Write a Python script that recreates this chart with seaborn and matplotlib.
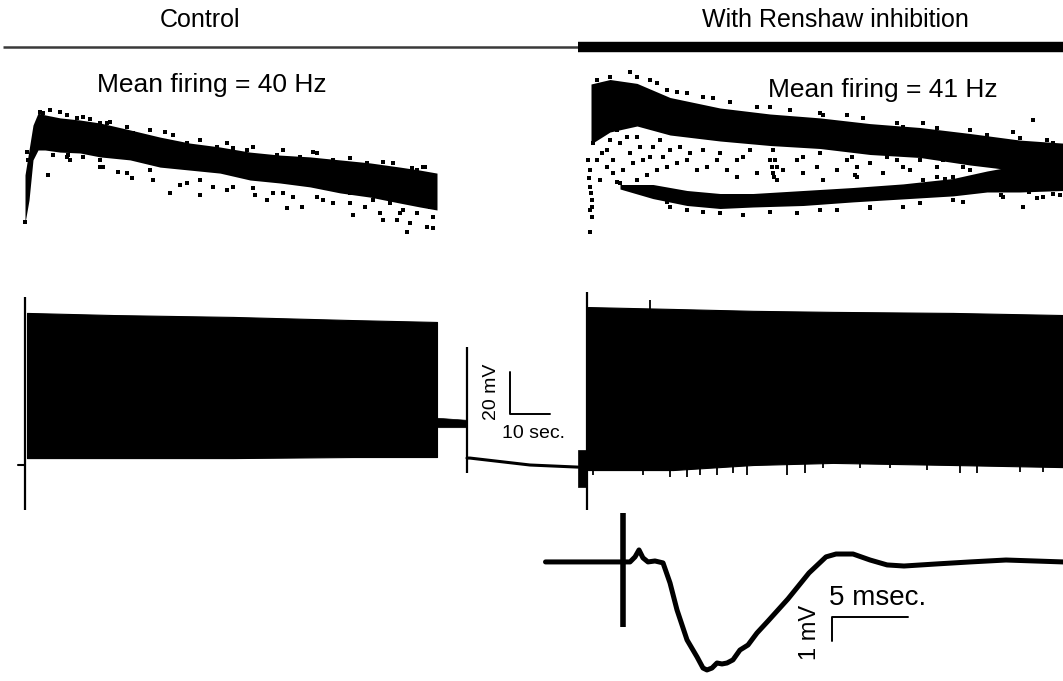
import numpy as np
import pandas as pd
import matplotlib
matplotlib.use("Agg")
import matplotlib.pyplot as plt
import seaborn as sns

# ---------------- data ----------------
# firing-rate plots: time (s) vs instantaneous rate (Hz)
ctrl_band_t  = [-2.0, -1.0, 0.0, 1.25, 3.0, 6.75, 11.75, 16.75, 24.25, 31.75, 39.25,
                46.75, 54.25, 61.75, 69.25, 76.75, 84.25, 91.75, 96.75, 101.0]
ctrl_band_hi = [36.7, 45.0, 53.3, 57.3, 56.7, 55.7, 55.0, 54.0, 51.7, 49.3, 47.3,
                46.0, 44.3, 43.3, 42.7, 41.7, 40.7, 39.3, 38.3, 37.3]
ctrl_band_lo = [20.7, 28.3, 41.7, 45.0, 45.0, 44.3, 44.0, 42.7, 41.7, 39.3, 38.3,
                37.3, 35.0, 34.0, 32.7, 30.7, 29.3, 27.3, 26.0, 25.0]
ctrl_pts_t  = [-1.6, 3.8, 4.25, 6.75, 1.75, 14.25, 19.25, 33.0, 17.6, 21.3, 24.7, 34.25,
               41.75, 36.75, 48.4, 55.5, 63.4, 58.4, 70.1, 75.1, 67.2, 75.1, 80.1, 83.0,
               87.6, 93.4, 94.25, 100.1, 98.4, 98.0, 94.7, 90.1, 45.9, 53.4, 60.9, -2.0,
               -1.2, 5.1, 8.8, 10.9, 16.75, 25.1, 38.4, 50.1, 66.75, 83.4, 95.9, 100.1,
               100.1, 91.75, 79.25, 70.9, 62.6, 50.1, 41.75, 29.25, 16.75, 8.4,
               79.25, 85.1, 89.25, 92.6, 95.9, 99.25, 90.9, 86.75, 72.6, 65.1, 60.1, 55.1,
               45.1, 38.4, 30.1, 23.4, 16.75, 9.25, 12.6,
               2.6, 8.4, 12.6, 18.4, 23.4, 29.25, 35.1, 41.75, 48.4, 55.1, 62.6, 70.9,
               79.25, 87.6, 97.6]
ctrl_pts_hz = [44.4, 36.7, 58.3, 57.8, 57.8, 55.2, 54.4, 51.1, 39.4, 37.8, 35.6, 30.6,
               30.0, 33.3, 31.7, 30.0, 25.6, 28.3, 44.4, 41.7, 26.1, 27.2, 23.3, 26.1,
               21.7, 17.8, 20.6, 18.9, 19.4, 39.4, 38.9, 40.6, 46.1, 45.0, 43.3, 21.1,
               41.7, 43.3, 43.3, 55.6, 53.9, 50.6, 47.2, 45.6, 42.8, 40.6, 38.3, 36.1,
               22.8, 23.9, 27.2, 29.4, 30.6, 32.8, 35.0, 38.3, 41.7, 42.8,
               30.6, 28.3, 27.2, 25.0, 23.9, 26.1, 21.7, 23.9, 28.3, 29.4, 30.6, 32.2,
               32.8, 33.9, 35.0, 37.2, 39.4, 41.7, 42.8,
               57.2, 56.7, 56.1, 53.9, 52.8, 51.7, 50.0, 48.3, 47.2, 46.1, 45.0, 43.9,
               42.2, 41.1, 39.4]

inh_up_t  = [139.5, 144.25, 151.0, 159.25, 171.75, 184.25, 196.75, 209.25, 221.75, 234.25, 246.75, 257.5]
inh_up_hi = [67.0, 68.5, 67.2, 62.5, 59.0, 57.0, 55.7, 53.8, 52.5, 50.5, 48.3, 47.3]
inh_up_lo = [47.0, 51.0, 53.0, 50.0, 48.0, 46.5, 45.5, 43.5, 42.5, 40.0, 38.0, 37.5]
inh_low_t  = [146.75, 155.0, 163.5, 171.75, 180.0, 192.5, 205.0, 217.5, 230.0, 238.5, 246.75, 257.5]
inh_low_hi = [33.5, 33.5, 31.5, 30.5, 30.5, 31.5, 32.5, 33.7, 35.5, 38.0, 40.0, 41.0]
inh_low_lo = [32.0, 28.8, 26.5, 25.5, 26.0, 26.5, 27.7, 28.7, 29.7, 31.0, 31.0, 31.5]
inh_pts_t  = [139.25, 139.25, 139.7, 139.25, 139.7, 138.8, 140.1, 139.25, 139.4, 139.1, 139.75,
              141.75, 143.4, 145.1, 142.2, 146.75, 149.25, 150.9, 152.6, 155.1, 144.25, 147.6, 157.6,
              146.75, 148.4, 150.9, 153.4, 155.9, 158.4, 160.9, 163.4, 165.9, 168.4, 170.9, 173.4,
              175.9, 177.6, 180.9, 184.25, 185.9, 187.6, 190.9, 192.6, 195.9, 197.6, 200.9, 203.4,
              205.9, 209.25, 212.6, 215.9, 219.25, 222.6, 225.9, 230.1, 234.25, 185.9, 185.1, 185.5,
              149.25, 154.25, 158.4, 163.4, 170.1, 184.25, 196.75, 203.4, 217.6, 222.6, 234.25,
              250.1, 245.1, 253.4, 144.25, 140.9,
              158.4, 167.6, 177.6, 200.9, 217.6, 232.6, 247.6, 252.6, 190.9, 159.25, 209.25,
              145.9, 150.9, 153.4, 242.0, 249.0, 255.0, 238.0, 228.0,
              184.7, 185.1, 184.7, 185.25, 205.1, 204.7, 205.9, 205.5,
              224.25, 227.6, 230.1, 232.6, 235.9, 237.6, 235.1, 239.25, 225.9, 221.75,
              142.6, 145.9, 148.4, 151.75, 154.25, 156.75, 159.25, 143.4, 140.9, 145.1, 150.1,
              161.75, 164.25, 167.6, 171.75, 175.9, 179.25, 192.6, 196.75, 213.4, 217.6,
              150.9, 155.9, 160.9, 167.6, 174.25, 180.9, 189.25, 197.6, 207.6, 215.9, 225.9,
              238.4, 246.75, 255.1,
              163.4, 171.75, 184.25, 196.75, 209.25, 221.75, 230.1, 242.6, 250.9, 256.75]
inh_pts_hz = [38.3, 32.8, 28.3, 25.0, 22.8, 41.7, 47.2, 17.8, 30.6, 35.6, 26.1,
              35.0, 39.4, 41.7, 43.9, 47.2, 43.9, 49.4, 41.7, 46.1, 48.3, 38.3, 42.8,
              33.9, 32.8, 35.0, 36.7, 38.3, 39.4, 40.6, 41.7, 38.3, 39.4, 41.7, 38.3,
              36.1, 42.8, 37.2, 41.7, 35.0, 38.3, 41.7, 37.2, 39.4, 35.0, 38.3, 41.7,
              36.1, 40.6, 37.2, 41.7, 38.3, 35.0, 39.4, 36.1, 38.3, 39.4, 37.2, 41.7,
              71.1, 68.3, 65.0, 63.9, 62.2, 59.4, 57.2, 56.7, 52.8, 53.9, 51.7,
              55.0, 51.1, 48.3, 69.4, 68.3,
              27.8, 24.4, 23.3, 25.0, 26.1, 27.8, 26.1, 29.4, 23.9, 26.1, 25.6,
              34.4, 32.2, 32.8, 30.0, 31.0, 30.5, 33.0, 35.5,
              47.2, 45.0, 39.4, 36.1, 46.1, 42.8, 39.4, 36.7,
              45.0, 41.7, 43.9, 39.4, 42.8, 36.1, 33.9, 40.6, 36.1, 41.7,
              50.6, 51.7, 49.4, 46.1, 42.8, 48.3, 45.0, 45.0, 41.7, 37.2, 40.6,
              46.1, 43.9, 45.0, 43.9, 41.7, 45.0, 42.8, 43.9, 42.8, 39.4,
              69.4, 67.2, 64.4, 62.8, 61.1, 59.4, 58.3, 56.7, 55.6, 53.9, 52.2,
              50.0, 48.9, 47.2,
              25.0, 23.9, 24.4, 25.0, 26.1, 27.2, 28.3, 29.4, 28.9, 30.0]

# membrane-potential recordings: time (s) vs Vm (mV)
pre_t, pre_v = [-3.75, -2.0], [-70.0, -70.0]
stim_t   = [-2.0, 108.5, 138.5]
stim_top = [10.0, -13.8, 12.4]
stim_bot = [-91.4, -73.8, -91.4]
ctrl_blk_t   = [-1.5, 20.0, 50.0, 80.0, 101.0]
ctrl_blk_top = [2.4, 1.4, 0.5, -1.0, -1.9]
ctrl_blk_bot = [-66.7, -66.7, -66.7, -66.2, -66.2]
tail_t, tail_hi, tail_lo = [101.0, 108.5], [-47.5, -48.5], [-52.0, -52.0]
post_t = [108.5, 109.25, 124.25, 136.25]
post_v = [-66.7, -66.7, -70.0, -71.0]
burst_t, burst_hi, burst_lo = [136.25, 138.5], [-62.9, -62.9], [-80.5, -80.5]
inh_blk_t   = [138.75, 160.0, 180.0, 200.0, 230.0, 257.5]
inh_blk_top = [5.2, 4.3, 3.4, 2.9, 2.4, 1.4]
inh_blk_bot = [-72.4, -72.4, -70.0, -69.0, -70.0, -71.0]
inh_spk_t = [140.0, 152.5, 159.25, 163.5, 166.75, 171.0, 175.0, 178.5, 188.5, 193.0,
             197.5, 206.75, 214.25, 223.5, 231.75, 236.0, 246.75, 252.5]
inh_spk_v = [-74.8, -74.8, -75.7, -75.7, -74.8, -74.8, -73.8, -74.8, -74.8, -73.8,
             -71.4, -71.4, -71.4, -72.4, -73.8, -73.8, -73.3, -73.3]
inh_up_spk_t, inh_up_spk_v = [154.25], [8.6]

# recurrent IPSP: time (ms) vs mV
ipsp_t = [-4.9, -1.3, -0.1, 0.66, 0.99, 1.25, 1.51, 1.84, 2.30, 2.83, 3.29, 3.75, 4.41,
          5.07, 5.46, 5.72, 6.05, 6.38, 6.71, 7.04, 7.43, 7.89, 8.42, 9.01, 9.74, 11.05,
          12.43, 13.55, 14.21, 15.33, 16.45, 17.57, 18.68, 20.92, 23.03, 25.39, 29.14]
ipsp_v = [0.0, 0.0, 0.0, 0.0, 0.21, 0.5, 0.17, 0.0, 0.04, -0.04, -0.875, -2.0, -3.25,
          -3.96, -4.42, -4.5, -4.42, -4.21, -4.25, -4.21, -4.08, -3.67, -3.46, -2.96, -2.46, -1.54,
          -0.46, 0.21, 0.33, 0.33, 0.08, -0.125, -0.17, -0.08, 0.0, 0.08, 0.0]
ipsp_stim_t, ipsp_stim_top, ipsp_stim_bot = 0.2, 2.04, -2.71

ctrl_span = [-7.5, 136.25]
inh_span = [136.25, 257.5]
ctrl_mean_hz, inh_mean_hz = 40, 41

# ---------------- figure ----------------
sns.set_style("white")
plt.rcParams['font.family'] = ['Liberation Sans', 'DejaVu Sans']
plt.rcParams['text.color'] = 'black'

W, H = 1063, 681
fig = plt.figure(figsize=(W / 100, H / 100), dpi=100)
fig.patch.set_facecolor("white")


def box(x0, y0, x1, y1):
    ax = fig.add_axes([x0 / W, 1 - y1 / H, (x1 - x0) / W, (y1 - y0) / H])
    ax.set_axis_off()
    ax.patch.set_alpha(0)
    return ax


T_LIM = (-8.25, 257.5)

# header
axh = box(0, 0, W, 60)
axh.set_xlim(*T_LIM)
axh.set_ylim(1, 0)
axh.hlines(0.78, ctrl_span[0], ctrl_span[1], color="#3a3a3a", lw=1.8)
axh.hlines(0.78, inh_span[0], inh_span[1], color="black", lw=7.5)
axh.text(41.75, 0.33, "Control", ha="center", va="center", fontsize=18, color="black")
axh.text(200.5, 0.33, "With Renshaw inhibition", ha="center", va="center", fontsize=18, color="black")

# firing rate
axs = box(0, 60, W, 240)
axs.set_xlim(*T_LIM)
axs.set_ylim(15, 75)
axs.fill_between(ctrl_band_t, ctrl_band_lo, ctrl_band_hi, color="black", lw=0)
axs.fill_between(inh_up_t, inh_up_lo, inh_up_hi, color="black", lw=0)
axs.fill_between(inh_low_t, inh_low_lo, inh_low_hi, color="black", lw=0)
sns.scatterplot(x=ctrl_pts_t, y=ctrl_pts_hz, ax=axs, marker="s", s=11, color="black", linewidth=0)
sns.scatterplot(x=inh_pts_t, y=inh_pts_hz, ax=axs, marker="s", s=11, color="black", linewidth=0)
axs.set_axis_off()
axs.text(44.75, 66.7, f"Mean firing = {ctrl_mean_hz} Hz", ha="center", va="center", fontsize=19, color="black")
axs.text(212.5, 65.0, f"Mean firing = {inh_mean_hz} Hz", ha="center", va="center", fontsize=19, color="black")

# voltage recordings
axt = box(0, 285, W, 515)
axt.set_xlim(*T_LIM)
axt.set_ylim(-93.8, 15.7)
sns.lineplot(x=pre_t, y=pre_v, ax=axt, color="black", lw=1.5, estimator=None, sort=False)
axt.vlines(stim_t, stim_bot, stim_top, color="black", lw=1.6)
axt.fill_between(ctrl_blk_t, ctrl_blk_bot, ctrl_blk_top, color="black", lw=0.8)
axt.fill_between(tail_t, tail_lo, tail_hi, color="black", lw=0.5)
sns.lineplot(x=post_t, y=post_v, ax=axt, color="black", lw=2.2, estimator=None, sort=False)
axt.fill_between(burst_t, burst_lo, burst_hi, color="black", lw=0.5)
axt.fill_between(inh_blk_t, inh_blk_bot, inh_blk_top, color="black", lw=0.8)
axt.vlines(inh_spk_t, -68.0, inh_spk_v, color="black", lw=1.3)
axt.vlines(inh_up_spk_t, 0.0, inh_up_spk_v, color="black", lw=1.3)
# scale bar 20 mV / 10 s
sb_t0, sb_v0 = 119.25, -45.7
axt.plot([sb_t0, sb_t0, sb_t0 + 10], [sb_v0 + 20, sb_v0, sb_v0], color="black", lw=1.4)
axt.text(114.75, -35.2, "20 mV", rotation=90, ha="center", va="center", fontsize=14, color="black")
axt.text(125.25, -54.8, "10 sec.", ha="center", va="center", fontsize=14, color="black")
axt.set_axis_off()

# IPSP
axi = box(530, 500, W, H)
axi.set_xlim(-5.92, 29.14)
axi.set_ylim(-4.96, 2.58)
sns.lineplot(x=ipsp_t, y=ipsp_v, ax=axi, color="black", lw=3.6, estimator=None, sort=False)
axi.vlines(ipsp_stim_t, ipsp_stim_bot, ipsp_stim_top, color="black", lw=4.0)
ms_t0, mv_v0 = 13.95, -2.29
axi.plot([ms_t0 + 5, ms_t0, ms_t0], [mv_v0, mv_v0, mv_v0 - 1], color="black", lw=1.4)
axi.text(13.75, -1.5, "5 msec.", ha="left", va="center", fontsize=20, color="black")
axi.text(12.5, -2.92, "1 mV", rotation=90, ha="center", va="center", fontsize=17, color="black")
axi.set_axis_off()

fig.savefig("out.png", dpi=100, facecolor="white")
